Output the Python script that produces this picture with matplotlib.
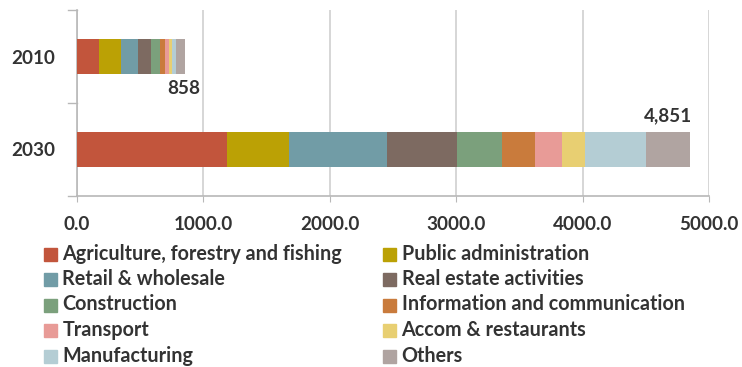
import matplotlib
matplotlib.use("Agg")
import matplotlib.pyplot as plt
from matplotlib.patches import Rectangle

years = ["2010", "2030"]
sectors = [
    "Agriculture, forestry and fishing",
    "Public administration",
    "Retail & wholesale",
    "Real estate activities",
    "Construction",
    "Information and communication",
    "Transport",
    "Accom & restaurants",
    "Manufacturing",
    "Others",
]
values_2010 = [176, 175, 137, 103, 65, 42, 32, 26, 32, 70]
values_2030 = [1192, 490, 770, 555, 360, 257, 213, 181, 486, 347]
colors = [
    "#C2553C", "#BBA105", "#719CA6", "#7D6A61", "#7BA07C",
    "#C97B3C", "#E89B97", "#E8CF72", "#B4CDD4", "#B0A4A1",
]
total_labels = ["858", "4,851"]

TEXT = "#333333"
plt.rcParams["font.family"] = ["Lato", "DejaVu Sans"]
plt.rcParams["font.weight"] = "bold"

W, H = 742, 367
fig = plt.figure(figsize=(W / 100, H / 100), dpi=100)
ax = fig.add_axes([76.7 / W, 1 - 196 / H, (709 - 76.7) / W, 186 / H])

# 2010 on top, 2030 below
ypos = [1, 0]
for yp, vals in zip(ypos, [values_2010, values_2030]):
    left = 0
    for v, c in zip(vals, colors):
        ax.barh(yp, v, left=left, height=0.38, color=c, zorder=3)
        left += v

ax.set_xlim(0, 5000)
ax.set_ylim(-0.5, 1.5)
ax.set_xticks(range(0, 5001, 1000))
ax.set_xticklabels([f"{t:.1f}" for t in range(0, 5001, 1000)], fontsize=13.6, color=TEXT)
ax.set_yticks(ypos)
ax.set_yticklabels(years, fontsize=13.6, color=TEXT)
ax.tick_params(axis="y", length=0, pad=15.5)
ax.tick_params(axis="x", length=4.5, color="#B8B8B8", pad=10)
# category boundary ticks on the value axis
for yb in [-0.5, 0.5, 1.5]:
    ax.plot([-0.013, 0], [yb, yb], transform=ax.get_yaxis_transform(),
            color="#B8B8B8", lw=1, clip_on=False)

ax.grid(axis="x", color="#D0D0D0", lw=1.2, zorder=0)
for s in ["top", "right"]:
    ax.spines[s].set_visible(False)
for s in ["left", "bottom"]:
    ax.spines[s].set_color("#B8B8B8")
    ax.spines[s].set_linewidth(1.2)

totals = [sum(values_2010), sum(values_2030)]
ax.annotate(total_labels[0], xy=(totals[0], 1 - 0.19), xytext=(-1, -14),
            textcoords="offset pixels", ha="center", va="center",
            fontsize=13.6, color=TEXT)
ax.annotate(total_labels[1], xy=(totals[1], 0 + 0.19), xytext=(-22, 16),
            textcoords="offset pixels", ha="center", va="center",
            fontsize=13.6, color=TEXT)

# two-column legend below the plot, filled row by row
for i, (name, c) in enumerate(zip(sectors, colors)):
    row, col = divmod(i, 2)
    x0 = [44, 383][col]
    yc = 254 + row * 25.5
    fig.add_artist(Rectangle((x0 / W, 1 - (yc + 6.5) / H), 13 / W, 13 / H,
                             transform=fig.transFigure, color=c))
    fig.text((x0 + 18.5) / W, 1 - (yc + 5.5) / H, name, ha="left", va="baseline",
             fontsize=14.2, color=TEXT)

fig.savefig("out.png", dpi=100)
